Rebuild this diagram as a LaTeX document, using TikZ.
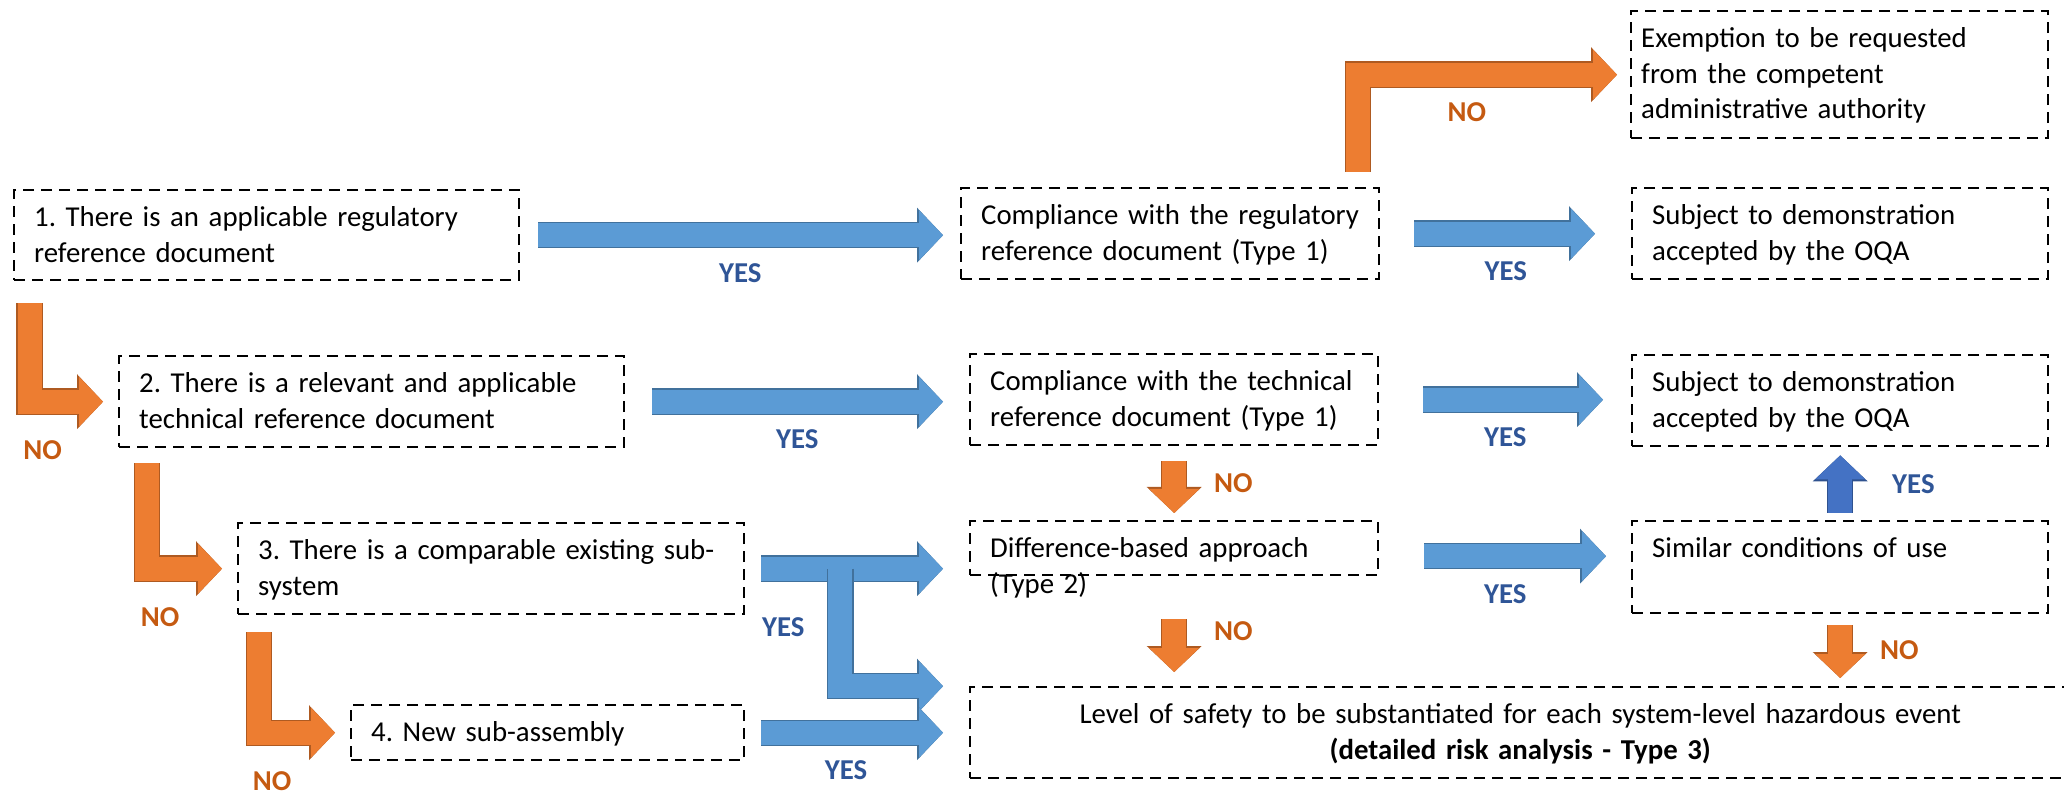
\documentclass[tikz,border=0pt]{standalone}
\usepackage{fontspec}
\setmainfont{Carlito}
\usetikzlibrary{arrows.meta,calc}
\frenchspacing

\definecolor{arrowblue}{HTML}{5B9BD5}
\definecolor{edgeblue}{HTML}{41719C}
\definecolor{arrowdarkblue}{HTML}{4472C4}
\definecolor{edgedarkblue}{HTML}{2F528F}
\definecolor{arroworange}{HTML}{ED7D31}
\definecolor{edgeorange}{HTML}{AE5A21}
\definecolor{yestext}{HTML}{2F5597}
\definecolor{notext}{HTML}{C55A11}

\begin{document}
\begin{tikzpicture}[x=0.5pt, y=-0.5pt,
    font=\fontsize{14.4pt}{17.75pt}\selectfont,
    box/.style={draw, line width=1.2pt, dash pattern=on 5.5pt off 3.5pt,
      anchor=north west, align=left, inner xsep=10pt, inner ysep=0pt,
      text height=18.25pt, text depth=27.25pt},
    fat/.style 2 args={line width=12pt, draw=#1,
      -{Triangle[length=12pt, width=25pt, line width=0pt]},
      preaction={draw=#2, line width=13.2pt,
        -{Triangle[length=13pt, width=27.5pt, line width=0pt]}}},
    yes/.style={fat={arrowblue}{edgeblue}},
    no/.style={fat={arroworange}{edgeorange}},
    yeslbl/.style={inner sep=0pt, text=yestext, font=\fontsize{14.4pt}{17.75pt}\selectfont\bfseries},
    nolbl/.style={inner sep=0pt, text=notext, font=\fontsize{14.4pt}{17.75pt}\selectfont\bfseries}]
  \path[use as bounding box] (0, 0) rectangle (2064, 795);

  % questions
  \node[box, text width=232.5pt, text depth=26.75pt] (Q_1) at (13, 189)
    {1. There is an applicable regulatory\\reference document};
  \node[box, text width=232.5pt] (Q_2) at (118, 355)
    {2. There is a relevant and applicable\\technical reference document};
  \node[box, text width=233pt] (Q_3) at (237, 522)
    {3. There is a comparable existing sub-\\system};
  \node[box, text width=176.5pt, text depth=9.25pt] (Q_4) at (350, 704)
    {4. New sub-assembly};

  % outcomes
  \node[box, text width=189pt] (C_1) at (960, 187)
    {Compliance with the regulatory\\reference document (Type 1)};
  \node[box, text width=184pt] (C_2) at (969, 353)
    {Compliance with the technical\\reference document (Type 1)};
  \node[box, text width=184pt, text depth=8.75pt] (D) at (969, 520)
    {Difference-based approach\\(Type 2)};
  \node[box, text width=198.5pt, inner xsep=5pt, text depth=45.25pt] (E) at (1630, 10)
    {Exemption to be requested\\from the competent\\administrative authority};
  \node[box, text width=188pt] (S_1) at (1631, 187)
    {Subject to demonstration\\accepted by the OQA};
  \node[box, text width=188pt] (S_2) at (1631, 354)
    {Subject to demonstration\\accepted by the OQA};
  \node[box, text width=188pt, text depth=27.75pt] (U) at (1631, 520)
    {Similar conditions of use};
  \node[box, text width=530pt, align=center] (L) at (969, 686)
    {Level of safety to be substantiated for each system-level hazardous event\\
     \textbf{(detailed risk analysis - Type 3)}};

  % NO arrows down the left
  \foreach \a/\b/\dx/\dy in {Q_1/Q_2/16.5/22, Q_2/Q_3/29/15, Q_3/Q_4/22/17}
    \draw[no, shorten >=7.5pt] ($(\a.south west)+(\dx, \dy)$) |- node[nolbl, xshift=6.5pt, yshift=-24pt] {NO} (\b.west);

  % YES arrows
  \draw[yes, shorten <=9pt, shorten >=8.5pt] (Q_1.east) -- node[yeslbl, below=8pt] {YES} (Q_1.east -| C_1.west);
  \draw[yes, shorten <=13.5pt, shorten >=13pt] (Q_2.east) -- node[yeslbl, below=8pt] {YES} (Q_2.east -| C_2.west);
  \draw[yes, shorten <=8pt, shorten >=13pt] (Q_3.east) -- (Q_3.east -| D.west);
  \coordinate (fork) at ($(Q_3.east)+(95, 0)$);
  \draw[yes, shorten >=13pt] (fork) |- node[yeslbl, pos=0.25, left=12pt] {YES} ($(L.west)+(0, -46.5)$);
  \draw[yes, shorten <=8pt, shorten >=13pt] (Q_4.east) -- node[yeslbl, pos=0.45, below=8pt] {YES} (L.west);
  \draw[yes, shorten <=17pt, shorten >=18pt] (C_1.east) -- node[yeslbl, below=8pt] {YES} (C_1.east -| S_1.west);
  \draw[yes, shorten <=22pt, shorten >=14pt] (C_2.east) -- node[yeslbl, below=8pt] {YES} (C_2.east -| S_2.west);
  \draw[yes, shorten <=22.5pt, shorten >=12.5pt] ([yshift=-4pt]D.east) -- node[yeslbl, below=8pt] {YES} ([yshift=-4pt]D.east -| U.west);
  \draw[fat={arrowdarkblue}{edgedarkblue}, shorten <=3.5pt, shorten >=4pt] (U.north) -- node[yeslbl, right=20pt] {YES} (S_2.south);

  % NO arrows on the right
  \draw[no, shorten >=6.5pt] ($(C_1.north east)+(-22.5, -15)$) |- node[nolbl, pos=0.7, below=8pt] {NO} (E.west);
  \draw[no, shorten <=7.5pt, shorten >=3.5pt] (C_2.south) -- node[nolbl, right=14pt] {NO} (D.north);
  \draw[no, shorten <=21.5pt, shorten >=7pt] (D.south) -- node[nolbl, right=14pt] {NO} (D.south |- L.north);
  \draw[no, shorten <=5.5pt, shorten >=4pt] (U.south) -- node[nolbl, right=14pt] {NO} (U.south |- L.north);
\end{tikzpicture}
\end{document}
